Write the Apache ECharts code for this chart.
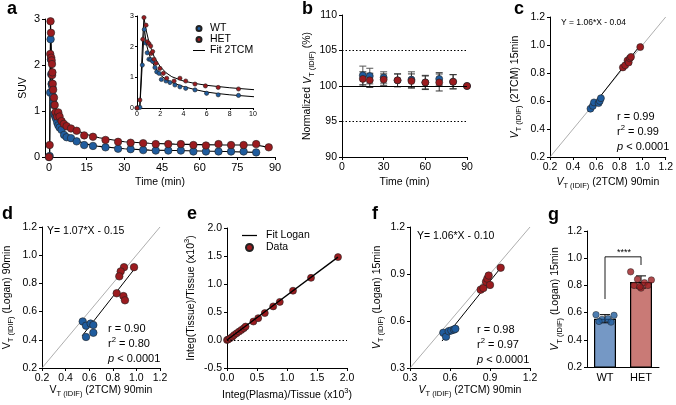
<!DOCTYPE html>
<html><head><meta charset="utf-8">
<script src="https://cdn.jsdelivr.net/npm/echarts@6/dist/echarts.min.js"></script>
<style>html,body{margin:0;padding:0;background:#fff}#c{width:676px;height:405px}</style>
</head><body><div id="c"></div>
<script>
// ---------- Panel a : SUV time-activity curves ----------
const aTimeWT = [0,0.25,0.46,0.63,0.75,0.88,1.03,1.18,1.35,1.55,1.7,1.9,2.1,2.5,2.84,3.27,3.7,4.2,5,6,7,8.75,11,14,17.5,22.5,27.5,32.5,37.5,42.5,47.5,52.5,57.5,62.5,67.5,72.5,77.5,82.5];
const aSuvWT  = [0,0.02,1.4,2.56,2.12,1.8,1.59,1.58,1.52,1.32,1.18,1.13,0.93,0.88,0.83,0.75,0.69,0.64,0.59,0.48,0.43,0.41,0.34,0.26,0.24,0.21,0.18,0.17,0.15,0.14,0.14,0.14,0.12,0.12,0.12,0.12,0.12,0.10];
const aTimeHET = [0,0.25,0.5,0.6,0.78,0.89,1.03,1.18,1.23,1.35,1.47,1.64,1.98,2.27,2.56,3.2,3.7,4.2,5,5.9,7,8.75,11,14,17.5,22.5,27.5,32.5,37.5,42.5,47.5,52.5,57.5,62.5,67.5,72.5,77.5,82.5,87.5];
const aSuvHET  = [0,0.26,2.24,2.95,2.7,2.16,2.1,2.02,1.78,1.84,1.59,1.46,1.29,1.13,0.97,0.88,0.97,0.88,0.78,0.72,0.67,0.62,0.57,0.47,0.44,0.37,0.33,0.31,0.30,0.28,0.28,0.28,0.26,0.25,0.28,0.26,0.26,0.28,0.21];
const aFitTimeWT = [0,0.25,0.45,0.63,0.8,1,1.25,1.5,2,2.5,3,4,5,6,7,8,10,15,20,30,40,50,60,70,82.5];
const aFitWT     = [0,0.05,1.4,2.6,2.1,1.8,1.55,1.36,1.08,0.93,0.83,0.7,0.6,0.52,0.47,0.43,0.37,0.28,0.23,0.18,0.15,0.14,0.13,0.12,0.10];
const aFitTimeHET = [0,0.25,0.5,0.6,0.75,1,1.25,1.5,2,2.5,3,4,5,6,7,8,10,15,20,30,40,50,60,70,82.5,87.5];
const aFitHET     = [0,0.1,2.3,2.95,2.6,2.2,1.9,1.65,1.35,1.15,1.02,0.88,0.8,0.74,0.7,0.66,0.6,0.49,0.42,0.33,0.30,0.28,0.27,0.26,0.26,0.21];
const aTicks = [0,15,30,45,60,75,90];

// ---------- Panel b : normalized VT ----------
const bTime   = [15,20,30,40,50,60,70,80,90];
const bWT     = [101.5,101.4,101.2,100.8,100.9,100.5,101.0,100.6,100];
const bWTErr  = [1.3,1.1,0.8,0.9,1.1,0.9,0.9,1.0,0];
const bHET    = [101.0,100.8,100.9,100.8,100.7,100.5,100.5,100.6,100];
const bHETErr = [1.0,1.0,0.8,0.9,1.0,1.0,1.2,1.0,0];

// ---------- Panel c : 2TCM 15 vs 90 min ----------
const cWTx  = [0.55,0.57,0.58,0.62,0.63,0.64];
const cWTy  = [0.545,0.565,0.59,0.585,0.60,0.62];
const cHETx = [0.83,0.85,0.87,0.88,0.89,0.90,0.98];
const cHETy = [0.84,0.855,0.89,0.875,0.905,0.915,0.985];
const cFitX = [0.53,0.99];
const cFitY = [0.522,1.009];

// ---------- Panel d : Logan 90 vs 2TCM 90 ----------
const dWTx  = [0.545,0.573,0.612,0.635,0.573,0.635];
const dWTy  = [0.53,0.50,0.515,0.505,0.42,0.45];
const dHETx = [0.895,0.98,0.867,0.855,0.833,0.89,0.903];
const dHETy = [0.915,0.915,0.885,0.85,0.73,0.71,0.68];
const dFitX = [0.54,0.98];
const dFitY = [0.428,0.899];

// ---------- Panel e : Logan plot ----------
const eX = [0,0.02,0.05,0.09,0.12,0.16,0.2,0.24,0.28,0.31,0.44,0.52,0.63,0.77,0.88,1.1,1.4,1.85];
const eY = [0,0.01,0.03,0.06,0.09,0.12,0.15,0.18,0.21,0.24,0.33,0.39,0.48,0.6,0.68,0.88,1.11,1.48];
const eFitX = [0,1.85];
const eFitY = [0,1.48];

// ---------- Panel f : Logan 15 vs 2TCM 90 ----------
const fWTx  = [0.55,0.57,0.59,0.61,0.63,0.64];
const fWTy  = [0.525,0.50,0.535,0.54,0.545,0.55];
const fHETx = [0.83,0.85,0.87,0.88,0.89,0.90,0.98];
const fHETy = [0.80,0.81,0.85,0.87,0.89,0.83,0.94];
const fFitX = [0.54,0.98];
const fFitY = [0.472,0.939];

// ---------- Panel g : group comparison ----------
const gGroups = ['WT','HET'];
const gMean = [0.555,0.825];
const gSD   = [0.03,0.045];
const gWT   = [0.585,0.58,0.55,0.555,0.535,0.53];
const gHET  = [0.90,0.84,0.845,0.82,0.80,0.80,0.78,0.79];
const gBracketX = [0,0,1,1];
const gBracketY = [0.70,1.01,1.01,0.95];

// identity line
const idLine = [0.2,1.2];

const F = '"Liberation Sans", Arial, Helvetica, sans-serif';
const BLUE = '#1f5c9e', RED = '#9b1b1f';
const BLUE_BAR = '#7598c5', RED_BAR = '#c97a76';

const RICH = {
  n:{fontSize:10.5,fontFamily:F,color:'#000',lineHeight:16,verticalAlign:'middle'},
  i:{fontSize:10.5,fontFamily:F,color:'#000',fontStyle:'italic',lineHeight:16,verticalAlign:'middle'},
  s:{fontSize:7.5,fontFamily:F,color:'#000',lineHeight:9,verticalAlign:'bottom'},
  u:{fontSize:7.5,fontFamily:F,color:'#000',lineHeight:9,verticalAlign:'top'}
};
const zip = (a,b)=>a.map((v,i)=>[v,b[i]]);

function axis(gi, o){
  const fs = o.fs || 10.5;
  const ax = {
    gridIndex: gi, type: o.type || 'value',
    min: o.min, max: o.max, interval: o.interval,
    axisLine:{show:true,onZero:false,lineStyle:{color:'#000',width:1}},
    axisTick:{show: o.tick!==false, length:o.tl||3, inside:false, lineStyle:{color:'#000',width:1}},
    axisLabel:{color:'#000',fontSize:fs,fontFamily:F,margin:o.lm||5},
    splitLine:{show:false},
    name:o.name||'', nameLocation:'middle', nameGap:o.gap||20,
    nameTextStyle:{color:'#000',fontSize:10.5,fontFamily:F,rich:RICH}
  };
  if (o.dec!==undefined) ax.axisLabel.formatter = v => Number(v).toFixed(o.dec);
  if (o.custom){ ax.axisLabel.customValues = o.custom; ax.axisTick.customValues = o.custom; }
  if (o.data) ax.data = o.data;
  return ax;
}

const grid = [
  {left:45, top:19, width:230, height:138},   // a
  {left:137, top:16, width:116, height:92},   // a inset
  {left:342, top:15, width:125, height:142},  // b
  {left:550, top:17, width:116, height:140},  // c
  {left:42, top:227, width:118, height:141},  // d
  {left:227, top:228, width:120, height:140}, // e
  {left:410, top:227, width:120, height:141}, // f
  {left:587, top:231, width:72, height:136}   // g
];

const VT = '{i|V}{s|T (IDIF)}';
const xAxis = [
  axis(0,{min:-1.6,max:90,custom:aTicks,name:'{n|Time (min)}',gap:17,fs:11}),
  axis(1,{min:0,max:10,interval:2,fs:7,tl:2,lm:3}),
  axis(2,{min:0,max:90,interval:30,name:'{n|Time (min)}',gap:17}),
  axis(3,{min:0.2,max:1.2,interval:0.2,dec:1,name:VT+'{n| (2TCM) 90min}',gap:17}),
  axis(4,{min:0.2,max:1.2,interval:0.2,dec:1,name:'{n|V}{s|T (IDIF)}{n| (2TCM) 90min}',gap:14}),
  axis(5,{min:0,max:2,interval:0.5,dec:1,name:'{n|Integ(Plasma)/Tissue (x10}{u|3}{n|)}',gap:19}),
  axis(6,{min:0.3,max:1.2,interval:0.3,dec:1,name:VT+'{n| (2TCM) 90min}',gap:13}),
  axis(7,{type:'category',data:gGroups,tick:false,fs:11,lm:5})
];
const yAxis = [
  axis(0,{min:0,max:3,interval:1,name:'{n|SUV}',gap:14,fs:11}),
  axis(1,{min:0,max:3,interval:1,fs:7,tl:2,lm:3}),
  axis(2,{min:90,max:110,interval:5,name:'{n|Normalized }'+VT+'{n| (%)}',gap:26}),
  axis(3,{min:0.2,max:1.2,interval:0.2,dec:1,name:VT+'{n| (2TCM) 15min}',gap:27}),
  axis(4,{min:0.2,max:1.2,interval:0.2,dec:1,name:'{n|V}{s|T (IDIF)}{n| (Logan) 90min}',gap:27}),
  axis(5,{min:-0.5,max:2,interval:0.5,dec:1,name:'{n|Integ(Tissue)/Tissue (x10}{u|3}{n|)}',gap:28}),
  axis(6,{min:0.3,max:1.2,interval:0.3,dec:1,name:VT+'{n| (Logan) 15min}',gap:25}),
  axis(7,{min:0.2,max:1.2,interval:0.2,dec:1,name:VT+'{n| (Logan) 15min}',gap:23})
];

function dots(name, gi, data, color, size, z){
  return {type:'scatter', name, xAxisIndex:gi, yAxisIndex:gi, data, symbolSize:size,
    itemStyle:{color, borderColor:'#222', borderWidth:0.6, opacity:1}, z:z||3, silent:true};
}
function line(name, gi, data, color, width, z, dash){
  return {type:'line', name, xAxisIndex:gi, yAxisIndex:gi, data, symbol:'none', showSymbol:false,
    itemStyle:{color}, color,
    lineStyle:{color, width, type:dash||'solid'}, z:z||2, silent:true, animation:false};
}
function errBars(gi, xs, ys, es, color, cap){
  return {type:'custom', xAxisIndex:gi, yAxisIndex:gi, z:2, silent:true,
    data: xs.map((x,i)=>[x, ys[i]-es[i], ys[i]+es[i]]),
    renderItem(params, api){
      const x=api.value(0), p1=api.coord([x,api.value(1)]), p2=api.coord([x,api.value(2)]);
      const st={stroke:color,lineWidth:1};
      return {type:'group',children:[
        {type:'line',shape:{x1:p1[0],y1:p1[1],x2:p2[0],y2:p2[1]},style:st},
        {type:'line',shape:{x1:p1[0]-cap,y1:p1[1],x2:p1[0]+cap,y2:p1[1]},style:st},
        {type:'line',shape:{x1:p2[0]-cap,y1:p2[1],x2:p2[0]+cap,y2:p2[1]},style:st}
      ]};
    }};
}
const JIT = [-9,9,-3,3,-6,6,0,-1];

const series = [
  // a main
  line('Fit 2TCM',0,zip(aFitTimeWT,aFitWT),'#000',1.1,2),
  line('Fit 2TCM',0,zip(aFitTimeHET,aFitHET),'#000',1.1,2),
  dots('WT',0,zip(aTimeWT,aSuvWT),BLUE,7.5,3),
  dots('HET',0,zip(aTimeHET,aSuvHET),RED,7.5,4),
  // a inset
  line('Fit 2TCM',1,zip(aFitTimeWT,aFitWT),'#000',1,2),
  line('Fit 2TCM',1,zip(aFitTimeHET,aFitHET),'#000',1,2),
  dots('WT',1,zip(aTimeWT,aSuvWT),BLUE,4.2,3),
  dots('HET',1,zip(aTimeHET,aSuvHET),RED,4.2,4),
  // b
  errBars(2,bTime,bWT,bWTErr,'#555',3.5),
  errBars(2,bTime,bHET,bHETErr,'#333',3.5),
  Object.assign(dots('WT',2,zip(bTime,bWT),BLUE,7,3),{
    markLine:{silent:true,symbol:'none',label:{show:false},animation:false,data:[
      {yAxis:100,lineStyle:{color:'#000',width:1.2,type:'solid'}},
      {yAxis:105,lineStyle:{color:'#000',width:1,type:[1.5,2]}},
      {yAxis:95,lineStyle:{color:'#000',width:1,type:[1.5,2]}}
    ]}}),
  dots('HET',2,zip(bTime,bHET),RED,7,4),
  // c
  line('identity',3,zip(idLine,idLine),'#999',0.8,1),
  line('fit',3,zip(cFitX,cFitY),'#000',1,2),
  dots('WT',3,zip(cWTx,cWTy),BLUE,7,3),
  dots('HET',3,zip(cHETx,cHETy),RED,7,3),
  // d
  line('identity',4,zip(idLine,idLine),'#999',0.8,1),
  line('fit',4,zip(dFitX,dFitY),'#000',1,2),
  dots('WT',4,zip(dWTx,dWTy),BLUE,7.5,3),
  dots('HET',4,zip(dHETx,dHETy),RED,7.5,3),
  // e
  Object.assign(line('Fit Logan',5,zip(eFitX,eFitY),'#000',1.3,4),{
    markLine:{silent:true,symbol:'none',label:{show:false},animation:false,data:[
      {yAxis:0,lineStyle:{color:'#000',width:1,type:[1.5,2]}}]}}),
  dots('Data',5,zip(eX,eY),RED,7,3),
  // f
  line('identity',6,zip(idLine,idLine),'#999',0.8,1),
  line('fit',6,zip(fFitX,fFitY),'#000',1,2),
  dots('WT',6,zip(fWTx,fWTy),BLUE,7.5,3),
  dots('HET',6,zip(fHETx,fHETy),RED,7.5,3),
  // g
  {type:'bar', xAxisIndex:7, yAxisIndex:7, barWidth:22, silent:true, z:1,
    data: gMean.map((v,i)=>({value:v,itemStyle:{color:i?RED_BAR:BLUE_BAR,borderColor:'#000',borderWidth:1.2}}))},
  errBars(7,[0,1],gMean,gSD,'#000',5),
  {type:'scatter', xAxisIndex:7, yAxisIndex:7, symbolSize:6.5, z:3, silent:true,
    itemStyle:{borderColor:'#222',borderWidth:0.6},
    data: gWT.map((v,i)=>({value:[0,v],symbolOffset:[JIT[i],0],itemStyle:{color:BLUE}}))
      .concat(gHET.map((v,i)=>({value:[1,v],symbolOffset:[JIT[i]*1.15,0],itemStyle:{color:RED}})))},
  line('bracket',7,zip(gBracketX,gBracketY),'#000',0.9,2)
];

function T(x,y,text,size,extra){
  return Object.assign({type:'text',x,y,silent:true,style:Object.assign({text,fill:'#000',
    fontSize:size,fontFamily:F,verticalAlign:'middle',align:'left',
    rich:{
      n:{fontSize:size,fontFamily:F,fill:'#000',lineHeight:size+5,verticalAlign:'middle'},
      i:{fontSize:size,fontFamily:F,fill:'#000',fontStyle:'italic',lineHeight:size+5,verticalAlign:'middle'},
      u:{fontSize:size*0.7,fontFamily:F,fill:'#000',lineHeight:size*0.8,verticalAlign:'top'}
    }},extra||{})});
}
function stats(x,y,r,r2,gap){
  return [
    T(x,y,'{n|r = '+r+'}',11),
    T(x,y+gap,'{n|r}{u|2}{n| = '+r2+'}',11),
    T(x,y+2*gap,'{i|p}{n| < 0.0001}',11)
  ];
}
const L = (x,y,t)=>({type:'text',x,y,silent:true,style:{text:t,fontSize:18,fontWeight:'bold',fontFamily:F,fill:'#000',verticalAlign:'middle'}});

const graphic = [
  L(7,9,'a'), L(302,9,'b'), L(514,9,'c'), L(2,214,'d'), L(187,214,'e'), L(372,214,'f'), L(548,215,'g'),
  T(561,23,'{n|Y = 1.06*X - 0.04}',8.5),
  ...stats(617,117,'0.99','0.99',15),
  T(47,231,'{n|Y= 1.07*X - 0.15}',10.5),
  ...stats(108,329,'0.90','0.80',15),
  T(417,236,'{n|Y= 1.06*X - 0.10}',10.5),
  ...stats(477,330,'0.98','0.97',15),
  T(624,253,'{n|****}',9,{}),
];
graphic[graphic.length-1].style.align='center';

const lineIcon = 'path://M0,0 L24,0 L24,2 L0,2 Z';
const option = {
  animation:false,
  backgroundColor:'#fff',
  textStyle:{fontFamily:F},
  grid, xAxis, yAxis, series, graphic,
  legend:[
    {left:188, top:18, orient:'vertical', itemWidth:12, itemHeight:5, itemGap:0, selectedMode:false,
      textStyle:{fontSize:10.5,fontFamily:F,color:'#000'},
      data:[{name:'WT',icon:'circle'},{name:'HET',icon:'circle'},
            {name:'Fit 2TCM',icon:lineIcon,itemStyle:{color:'#000'}}]},
    {left:237, top:225, orient:'vertical', itemWidth:15, itemHeight:7, itemGap:1, selectedMode:false,
      textStyle:{fontSize:10.5,fontFamily:F,color:'#000',padding:[0,0,0,4]},
      data:[{name:'Fit Logan',icon:lineIcon,itemStyle:{color:'#000'}},{name:'Data',icon:'circle'}]}
  ]
};
const chart = echarts.init(document.getElementById('c'), null, {renderer:'canvas'});
chart.setOption(option);
</script></body></html>
